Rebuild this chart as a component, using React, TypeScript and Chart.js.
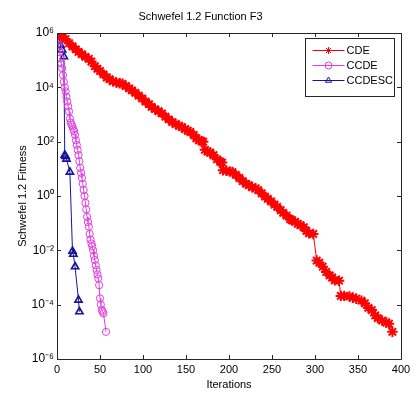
import React, { useEffect, useRef } from "react";
import { Chart, registerables } from "chart.js";
import { drawPoint } from "chart.js/helpers";

Chart.register(...registerables);

// ---------- data ----------
const cdeIterations = [
  0, 3, 6, 10, 14, 18, 22, 25, 29, 33, 37, 40, 44, 47, 50, 54, 58, 61, 65, 69, 73, 76, 80, 84, 87, 91, 95, 99,
  103, 107, 110, 114, 118, 122, 126, 130, 134, 138, 142, 145, 149, 152, 155, 159, 162, 165, 168, 170, 172, 175,
  178, 182, 186, 190, 192, 193, 197, 201, 204, 208, 212, 216, 220, 223, 227, 231, 234, 238, 242, 245, 249, 253,
  256, 260, 263, 267, 271, 273, 277, 280, 283, 287, 290, 293, 298, 302, 305, 309, 313, 317, 320, 323, 328, 330,
  334, 340, 344, 348, 354, 358, 362, 366, 370, 373, 378, 383, 386, 390,
];
const cdeFitness = [
  1.0e6, 8.9e5, 7.6e5, 6.0e5, 4.2e5, 3.2e5, 2.5e5, 2.0e5, 1.66e5, 1.32e5, 1.12e5, 8.9e4, 6.0e4, 4.8e4, 4.0e4,
  3.0e4, 2.3e4, 2.0e4, 1.66e4, 1.51e4, 1.41e4, 1.35e4, 1.12e4, 9.1e3, 7.8e3, 6.3e3, 5.0e3, 3.9e3, 3.0e3, 2.4e3,
  1.9e3, 1.58e3, 1.32e3, 1.1e3, 832, 661, 525, 447, 380, 347, 288, 251, 229, 178, 132, 112, 105, 100, 50, 43,
  40, 31.6, 22.4, 18.2, 17.0, 8.9, 8.5, 7.9, 7.6, 6.0, 4.6, 3.5, 2.8, 2.5, 2.1, 1.9, 1.66, 1.26, 0.95, 0.79,
  0.63, 0.48, 0.4, 0.3, 0.24, 0.19, 0.14, 0.13, 0.112, 0.095, 0.085, 0.071, 0.052, 0.042, 0.04, 4.2e-3, 3.5e-3,
  2.5e-3, 1.6e-3, 1.2e-3, 1.0e-3, 7.9e-4, 7.6e-4, 2.1e-4, 2.1e-4, 2.0e-4, 1.8e-4, 1.66e-4, 1.41e-4, 1.12e-4,
  7.6e-5, 6.3e-5, 4.0e-5, 3.2e-5, 2.6e-5, 2.2e-5, 2.0e-5, 1.0e-5,
];

const ccdeIterations = [
  0, 1, 2, 3, 4, 5, 6, 7, 8, 9, 10, 11, 12, 13, 14, 15, 16, 17, 18, 19, 20, 21, 22, 23, 24, 25, 26, 27, 28, 29,
  30, 31, 32, 33, 34, 35, 36, 37, 38, 39, 40, 41, 42, 43, 44, 45, 46, 47, 48, 49, 50, 51, 52, 53, 54, 57,
];
const ccdeFitness = [
  1.0e6, 6.3e5, 3.5e5, 2.0e5, 1.17e5, 7.6e4, 5.0e4, 2.8e4, 1.58e4, 1.0e4, 7.1e3, 4.5e3, 3.0e3, 2.0e3, 1.3e3, 708,
  501, 417, 355, 282, 240, 178, 112, 76, 50, 32, 19, 10.7, 7.1, 4.6, 2.8, 1.66, 1.0, 0.56, 0.32, 0.17, 0.11,
  0.074, 0.04, 0.025, 0.018, 0.014, 0.01, 6.3e-3, 4.4e-3, 2.8e-3, 1.9e-3, 1.3e-3, 9.3e-4, 5.2e-4, 1.7e-4,
  1.0e-4, 6.5e-5, 5.6e-5, 4.8e-5, 1.0e-5,
];

const ccdescIterations = [0, 2, 4, 6, 8, 9, 10, 11, 15, 18, 19, 21, 25, 26];
const ccdescFitness = [
  1.0e6, 7.9e5, 3.6e5, 2.4e5, 1.35e5, 32, 29, 23, 7.6, 9.3e-3, 7.2e-3, 2.5e-3, 1.48e-4, 5.5e-5,
];

const seriesNames = ["CDE", "CCDE", "CCDESC"];
const xTickValues = [0, 50, 100, 150, 200, 250, 300, 350, 400];
const yTickValues = [1e-6, 1e-4, 1e-2, 1e0, 1e2, 1e4, 1e6];
const yTickLabels = ["10⁻⁶", "10⁻⁴", "10⁻²", "10⁰", "10²", "10⁴", "10⁶"];
const chartTitle = "Schwefel 1.2 Function F3";
const xAxisTitle = "Iterations";
const yAxisTitle = "Schwefel 1.2 Fitness";

// ---------- styles ----------
const FONT_FAMILY = "'Liberation Sans', Arial, sans-serif";
const FONT_SIZE = 10;
const AXIS_COLOR = "#262626";
const RED = "#ff0000";
const MAGENTA = "#e23ce2";
const BLUE = "#15159a";

const toPoints = (xs: number[], ys: number[]) => xs.map((x, i) => ({ x, y: ys[i] }));

const axesBoxPlugin = {
  id: "axesBox",
  afterDatasetsDraw(chart: any) {
    const { ctx, chartArea } = chart;
    const { left, right, top, bottom } = chartArea;
    const xs = chart.scales.x;
    const ys = chart.scales.y;
    const tl = 4;
    ctx.save();
    ctx.strokeStyle = AXIS_COLOR;
    ctx.lineWidth = 1;
    ctx.beginPath();
    ctx.rect(Math.round(left) + 0.5, Math.round(top) + 0.5, Math.round(right - left), Math.round(bottom - top));
    ctx.stroke();
    ctx.beginPath();
    xs.ticks.forEach((t: any) => {
      const px = Math.round(xs.getPixelForValue(t.value)) + 0.5;
      ctx.moveTo(px, bottom);
      ctx.lineTo(px, bottom - tl);
      ctx.moveTo(px, top);
      ctx.lineTo(px, top + tl);
    });
    ys.ticks.forEach((t: any) => {
      const py = Math.round(ys.getPixelForValue(t.value)) + 0.5;
      ctx.moveTo(left, py);
      ctx.lineTo(left + tl, py);
      ctx.moveTo(right, py);
      ctx.lineTo(right - tl, py);
    });
    ctx.stroke();
    ctx.restore();
  },
};

const insideLegendPlugin = {
  id: "insideLegend",
  afterDraw(chart: any) {
    const { ctx, chartArea } = chart;
    const boxW = 89;
    const boxH = 58;
    const bx = Math.round(chartArea.right - 7 - boxW) + 0.5;
    const by = Math.round(chartArea.top + 5) + 0.5;
    ctx.save();
    ctx.fillStyle = "#ffffff";
    ctx.fillRect(bx, by, boxW, boxH);
    ctx.strokeStyle = AXIS_COLOR;
    ctx.lineWidth = 1;
    ctx.strokeRect(bx, by, boxW, boxH);
    chart.data.datasets.forEach((ds: any, i: number) => {
      const y = by + 12 + i * 15;
      const x0 = bx + 7;
      const x1 = bx + 39;
      ctx.strokeStyle = ds.borderColor;
      ctx.lineWidth = 1;
      ctx.beginPath();
      ctx.moveTo(x0, y);
      ctx.lineTo(x1, y);
      ctx.stroke();
      ctx.fillStyle = "rgba(0,0,0,0)";
      ctx.strokeStyle = ds.pointBorderColor;
      ctx.lineWidth = 1;
      drawPoint(
        ctx,
        { pointStyle: ds.pointStyle, radius: 3.5, rotation: 0, borderWidth: 1 } as any,
        (x0 + x1) / 2,
        y
      );
      ctx.fillStyle = "#000000";
      ctx.font = `${FONT_SIZE + 1}px ${FONT_FAMILY}`;
      ctx.textBaseline = "middle";
      ctx.textAlign = "left";
      ctx.fillText(ds.label, x1 + 2, y);
    });
    ctx.restore();
  },
};

export default function App() {
  const canvasRef = useRef<HTMLCanvasElement | null>(null);

  useEffect(() => {
    if (!canvasRef.current) return;
    const font = { family: FONT_FAMILY, size: FONT_SIZE, weight: "normal" as const };
    const chart = new Chart(canvasRef.current, {
      type: "line",
      data: {
        datasets: [
          {
            label: seriesNames[0],
            data: toPoints(cdeIterations, cdeFitness),
            borderColor: RED,
            borderWidth: 1,
            pointStyle: "star",
            pointRadius: 5.2,
            pointBorderWidth: 2,
            pointBorderColor: RED,
            pointBackgroundColor: RED,
            tension: 0,
          },
          {
            label: seriesNames[1],
            data: toPoints(ccdeIterations, ccdeFitness),
            borderColor: MAGENTA,
            borderWidth: 1,
            pointStyle: "circle",
            pointRadius: 3.6,
            pointBorderWidth: 1,
            pointBorderColor: MAGENTA,
            pointBackgroundColor: "rgba(0,0,0,0)",
            tension: 0,
          },
          {
            label: seriesNames[2],
            data: toPoints(ccdescIterations, ccdescFitness),
            borderColor: BLUE,
            borderWidth: 1,
            pointStyle: "triangle",
            pointRadius: 4.2,
            pointBorderWidth: 1.6,
            pointBorderColor: BLUE,
            pointBackgroundColor: "rgba(0,0,0,0)",
            tension: 0,
          },
        ],
      },
      options: {
        animation: false,
        responsive: false,
        maintainAspectRatio: false,
        devicePixelRatio: 1,
        layout: { padding: { left: 0, right: 18, top: 0, bottom: 0 } },
        plugins: {
          legend: { display: false },
          tooltip: { enabled: false },
          title: {
            display: true,
            text: chartTitle,
            color: "#000000",
            font: { ...font, size: FONT_SIZE + 1 },
            padding: { top: 10, bottom: 9.8 },
          },
        },
        scales: {
          x: {
            type: "linear",
            min: 0,
            max: 400,
            afterBuildTicks: (s: any) => {
              s.ticks = xTickValues.map((v) => ({ value: v }));
            },
            afterFit: (s: any) => {
              s.height = 35;
            },
            ticks: { color: "#000000", font: { ...font, size: 11 }, padding: 4, maxRotation: 0, autoSkip: false },
            grid: { display: false, drawTicks: false },
            border: { display: false },
            title: {
              display: true,
              text: xAxisTitle,
              color: "#000000",
              font: { ...font, size: 11 },
              padding: { top: 0, bottom: 2 },
            },
          },
          y: {
            type: "logarithmic",
            min: 1e-6,
            max: 1e6,
            afterBuildTicks: (s: any) => {
              s.ticks = yTickValues.map((v) => ({ value: v }));
            },
            afterFit: (s: any) => {
              s.width = 57;
            },
            ticks: {
              color: "#000000",
              font: { ...font, size: 12 },
              padding: 3,
              autoSkip: false,
              callback: (v: any) => {
                const idx = yTickValues.findIndex((t) => Math.abs(Math.log10(t) - Math.log10(Number(v))) < 1e-6);
                return idx >= 0 ? yTickLabels[idx] : "";
              },
            },
            grid: { display: false, drawTicks: false },
            border: { display: false },
            title: {
              display: true,
              text: yAxisTitle,
              color: "#000000",
              font: { ...font, size: 11 },
              padding: { top: 16, bottom: 0 },
            },
          },
        },
      },
      plugins: [axesBoxPlugin, insideLegendPlugin],
    } as any);
    return () => chart.destroy();
  }, []);

  return (
    <div style={{ position: "fixed", left: 0, top: 0, width: 419, height: 394, background: "#ffffff" }}>
      <canvas ref={canvasRef} width={419} height={394} style={{ display: "block", width: 419, height: 394 }} />
    </div>
  );
}
